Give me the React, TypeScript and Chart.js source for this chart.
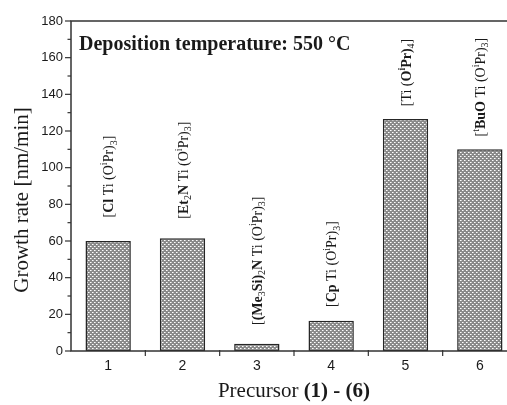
import React, { useEffect, useRef } from 'react';
import { Chart, registerables } from 'chart.js';

Chart.register(...registerables);

// ---- data ----
const categories = ['1', '2', '3', '4', '5', '6'];
const growthRates = [60, 61.5, 4, 16.5, 126.5, 110];
const yMin = 0;
const yMax = 180;
const yMajorStep = 20;
const yMinorStep = 10;
const chartTitle = 'Deposition temperature: 550 °C';
const yAxisTitle = 'Growth rate [nm/min]';
const xAxisTitleNormal = 'Precursor ';
const xAxisTitleBold = '(1) - (6)';
// bottom of each rotated precursor label, in data units (y)
const labelAnchors = [72.8, 72.2, 14.2, 24, 133.5, 117];
type Seg = [string, 'n' | 'b' | 'sub' | 'sup' | 'bsup'];
const precursorLabels: Seg[][] = [
  [['[', 'n'], ['Cl', 'b'], [' Ti (O', 'n'], ['i', 'sup'], ['Pr)', 'n'], ['3', 'sub'], [']', 'n']],
  [['[', 'n'], ['Et', 'b'], ['2', 'sub'], ['N', 'b'], [' Ti (O', 'n'], ['i', 'sup'], ['Pr)', 'n'], ['3', 'sub'], [']', 'n']],
  [['[', 'n'], ['(Me', 'b'], ['3', 'sub'], ['Si)', 'b'], ['2', 'sub'], ['N', 'b'], [' Ti (O', 'n'], ['i', 'sup'], ['Pr)', 'n'], ['3', 'sub'], [']', 'n']],
  [['[', 'n'], ['Cp', 'b'], [' Ti (O', 'n'], ['i', 'sup'], ['Pr)', 'n'], ['3', 'sub'], [']', 'n']],
  [['[Ti (', 'n'], ['O', 'b'], ['i', 'bsup'], ['Pr)', 'b'], ['4', 'sub'], [']', 'n']],
  [['[', 'n'], ['t', 'sup'], ['BuO', 'b'], [' Ti (O', 'n'], ['i', 'sup'], ['Pr)', 'n'], ['3', 'sub'], [']', 'n']],
];

const SERIF = '"Liberation Serif", "Times New Roman", serif';
const SANS = '"Liberation Sans", Arial, sans-serif';
const INK = '#1a1a1a';
const AXIS = '#333333';

function makePattern(): CanvasPattern | string {
  const c = document.createElement('canvas');
  c.width = 4;
  c.height = 4;
  const g = c.getContext('2d');
  if (!g) return '#999';
  g.fillStyle = '#8a8a8a';
  g.fillRect(0, 0, 4, 4);
  g.fillStyle = '#ffffff';
  g.fillRect(0, 0, 1, 1);
  g.fillRect(2, 2, 1, 1);
  g.fillStyle = '#cccccc';
  g.fillRect(1, 0, 1, 1);
  g.fillRect(3, 2, 1, 1);
  const p = g.createPattern(c, 'repeat');
  return p || '#999';
}

function segFont(style: Seg[1], size: number) {
  const small = Math.round(size * 0.7);
  switch (style) {
    case 'b':
      return `bold ${size}px ${SERIF}`;
    case 'sub':
    case 'sup':
      return `${small}px ${SERIF}`;
    case 'bsup':
      return `bold ${small}px ${SERIF}`;
    default:
      return `${size}px ${SERIF}`;
  }
}

function drawSegments(ctx: CanvasRenderingContext2D, segs: Seg[], size: number) {
  let x = 0;
  for (const [text, style] of segs) {
    ctx.font = segFont(style, size);
    let dy = 0;
    if (style === 'sub') dy = size * 0.25;
    if (style === 'sup' || style === 'bsup') dy = -size * 0.42;
    ctx.fillText(text, x, dy);
    x += ctx.measureText(text).width;
  }
}

const decorPlugin = {
  id: 'decor',
  afterDraw(chart: any) {
    const { ctx, chartArea, scales } = chart;
    const xs = scales.x;
    const ys = scales.y;
    const { left, right, top, bottom } = chartArea;
    ctx.save();
    // frame
    ctx.strokeStyle = AXIS;
    ctx.lineWidth = 1.5;
    ctx.strokeRect(left, top, right - left, bottom - top);
    // y ticks
    ctx.lineWidth = 1.2;
    for (let v = yMin; v <= yMax; v += yMinorStep) {
      const py = ys.getPixelForValue(v);
      const major = v % yMajorStep === 0;
      ctx.beginPath();
      ctx.moveTo(left, py);
      ctx.lineTo(left - (major ? 6 : 3.5), py);
      ctx.stroke();
    }
    // x ticks between categories
    for (let i = 1; i < categories.length; i++) {
      const px = (xs.getPixelForTick(i - 1) + xs.getPixelForTick(i)) / 2;
      ctx.beginPath();
      ctx.moveTo(px, bottom - 1);
      ctx.lineTo(px, bottom + 5);
      ctx.stroke();
    }
    // chart title
    ctx.fillStyle = INK;
    ctx.textBaseline = 'alphabetic';
    ctx.textAlign = 'left';
    ctx.font = `bold 20px ${SERIF}`;
    ctx.fillText(chartTitle, left + 8, top + 29);
    // y axis title
    ctx.save();
    ctx.translate(22, (top + bottom) / 2 + 14);
    ctx.rotate(-Math.PI / 2);
    ctx.textAlign = 'center';
    ctx.textBaseline = 'middle';
    ctx.font = `21px ${SERIF}`;
    ctx.fillText(yAxisTitle, 0, 0);
    ctx.restore();
    // x axis title
    ctx.font = `21px ${SERIF}`;
    const w1 = ctx.measureText(xAxisTitleNormal).width;
    ctx.font = `bold 21px ${SERIF}`;
    const w2 = ctx.measureText(xAxisTitleBold).width;
    const cx = (left + right) / 2;
    const startX = cx - (w1 + w2) / 2;
    ctx.font = `21px ${SERIF}`;
    ctx.fillText(xAxisTitleNormal, startX, 397);
    ctx.font = `bold 21px ${SERIF}`;
    ctx.fillText(xAxisTitleBold, startX + w1, 397);
    // rotated precursor labels
    precursorLabels.forEach((segs, i) => {
      const px = xs.getPixelForValue(i);
      const py = ys.getPixelForValue(labelAnchors[i]);
      ctx.save();
      ctx.translate(px + 5, py);
      ctx.rotate(-Math.PI / 2);
      ctx.textAlign = 'left';
      ctx.textBaseline = 'alphabetic';
      ctx.fillStyle = INK;
      drawSegments(ctx, segs, 14);
      ctx.restore();
    });
    ctx.restore();
  },
};

export default function App() {
  const ref = useRef<HTMLCanvasElement | null>(null);
  useEffect(() => {
    if (!ref.current) return;
    const pattern = makePattern();
    const chart = new Chart(ref.current, {
      type: 'bar',
      data: {
        labels: categories,
        datasets: [
          {
            data: growthRates,
            backgroundColor: pattern as any,
            borderColor: '#262626',
            borderWidth: 1.5,
            borderSkipped: false,
            barPercentage: 0.61,
            categoryPercentage: 1,
          },
        ],
      },
      options: {
        responsive: false,
        animation: false,
        devicePixelRatio: 1,
        layout: { padding: { top: 21, right: 13, left: 0, bottom: 0 } },
        plugins: { legend: { display: false }, tooltip: { enabled: false }, title: { display: false } },
        scales: {
          x: {
            type: 'category',
            offset: true,
            grid: { display: false, drawTicks: false },
            border: { display: false },
            ticks: { color: INK, font: { family: SANS, size: 14 }, padding: 7 },
            afterFit: (s: any) => {
              s.height = 54;
            },
          },
          y: {
            min: yMin,
            max: yMax,
            grid: { display: false, drawTicks: false },
            border: { display: false },
            ticks: {
              stepSize: yMajorStep,
              color: INK,
              font: { family: SANS, size: 13 },
              padding: 8,
            },
            afterFit: (s: any) => {
              s.width = 71;
            },
          },
        },
      },
      plugins: [decorPlugin],
    });
    return () => chart.destroy();
  }, []);
  return (
    <div style={{ position: 'fixed', left: 0, top: 0, width: 507, height: 405, overflow: 'hidden', background: '#fff' }}>
      <canvas ref={ref} width={530} height={405} style={{ display: 'block' }} />
    </div>
  );
}
